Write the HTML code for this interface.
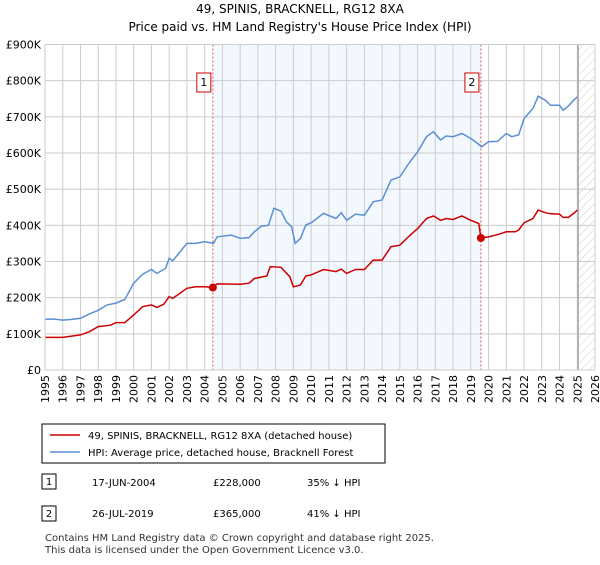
<!DOCTYPE html>
<html><head><meta charset="utf-8"><style>
body{margin:0;background:#fff;font-family:"Liberation Sans","DejaVu Sans",sans-serif;}
svg text{font-family:"DejaVu Sans","Liberation Sans",sans-serif;}
</style></head><body>
<svg id="c" width="600" height="560" viewBox="0 0 600 560" xmlns="http://www.w3.org/2000/svg">
<defs><pattern id="hatch" width="6" height="6" patternUnits="userSpaceOnUse" patternTransform="rotate(45)"><line x1="0" y1="0" x2="0" y2="6" stroke="#ccc" stroke-width="1"/></pattern></defs>
<text x="300" y="13" text-anchor="middle" font-size="12" fill="#000">49, SPINIS, BRACKNELL, RG12 8XA</text>
<text x="300" y="31" text-anchor="middle" font-size="12" fill="#000">Price paid vs. HM Land Registry's House Price Index (HPI)</text>
<g id="plot"></g>
<rect x="42" y="424" width="343" height="39" fill="#fff" stroke="#000" stroke-width="1"/>
<line x1="50" y1="435" x2="80" y2="435" stroke="#cc0000" stroke-width="1.5"/>
<text x="88" y="439" font-size="10">49, SPINIS, BRACKNELL, RG12 8XA (detached house)</text>
<line x1="50" y1="452" x2="80" y2="452" stroke="#5b8fd4" stroke-width="1.5"/>
<text x="88" y="456" font-size="10">HPI: Average price, detached house, Bracknell Forest</text>
<g>
<rect x="42" y="474" width="14" height="15" fill="#fff" stroke="#000"/><text x="49" y="485" font-size="10" text-anchor="middle">1</text>
<text x="92" y="486" font-size="10">17-JUN-2004</text><text x="213" y="486" font-size="10">£228,000</text><text x="307" y="486" font-size="10">35% ↓ HPI</text></g>
<g>
<rect x="42" y="506" width="14" height="15" fill="#fff" stroke="#000"/><text x="49" y="517" font-size="10" text-anchor="middle">2</text>
<text x="92" y="517" font-size="10">26-JUL-2019</text><text x="213" y="517" font-size="10">£365,000</text><text x="307" y="517" font-size="10">41% ↓ HPI</text></g>
<text x="45" y="541" font-size="10" fill="#333">Contains HM Land Registry data © Crown copyright and database right 2025.</text>
<text x="45" y="553" font-size="10" fill="#333">This data is licensed under the Open Government Licence v3.0.</text>
</svg>
<script>
const yTicks=[0,100,200,300,400,500,600,700,800,900];
const yTickLabels=["£0","£100K","£200K","£300K","£400K","£500K","£600K","£700K","£800K","£900K"];
const xYears=[1995,1996,1997,1998,1999,2000,2001,2002,2003,2004,2005,2006,2007,2008,2009,2010,2011,2012,2013,2014,2015,2016,2017,2018,2019,2020,2021,2022,2023,2024,2025,2026];
const saleDates=[2004.46,2019.57];
const saleValues=[228,365];
const hpiT=[1995,1995.5,1996,1996.5,1997,1997.5,1998,1998.5,1999,1999.5,2000,2000.5,2001,2001.3,2001.8,2002,2002.2,2003,2003.5,2004,2004.5,2004.7,2005.5,2006,2006.5,2006.8,2007.2,2007.6,2007.9,2008.3,2008.6,2008.9,2009.1,2009.4,2009.7,2010,2010.7,2011.4,2011.7,2012,2012.5,2013,2013.5,2014,2014.5,2015,2015.5,2016,2016.5,2016.9,2017.3,2017.6,2018,2018.5,2019,2019.4,2019.6,2020,2020.5,2021,2021.3,2021.7,2022,2022.5,2022.8,2023.2,2023.5,2024,2024.2,2024.5,2024.8,2025];
const hpiV=[140,141,138,140,143,155,165,180,185,195,240,265,278,267,281,309,302,350,350,355,350,368,373,364,366,382,398,400,447,439,410,396,350,364,401,407,433,419,435,414,431,428,465,470,525,534,571,603,645,659,636,647,645,654,640,626,617,631,632,654,645,650,695,723,757,746,732,732,718,730,746,755];
const ppT=[1995,1996,1997,1997.5,1998,1998.7,1999,1999.5,2000,2000.5,2001,2001.3,2001.7,2002,2002.2,2003,2003.5,2004,2004.46,2004.7,2006,2006.5,2006.8,2007.5,2007.7,2008.3,2008.8,2009,2009.4,2009.7,2010,2010.7,2011.4,2011.7,2012,2012.5,2013,2013.5,2014,2014.5,2015,2015.5,2016,2016.5,2016.9,2017.3,2017.6,2018,2018.5,2019,2019.45,2019.57,2020,2020.5,2021,2021.5,2021.7,2022,2022.5,2022.8,2023.2,2023.5,2024,2024.2,2024.5,2024.8,2025];
const ppV=[90,90,97,106,120,124,131,131,152,175,180,173,182,203,198,226,230,230,228,238,237,240,253,260,286,284,258,230,235,260,263,278,272,279,267,278,278,304,304,341,345,369,391,419,426,414,419,416,426,414,405,365,368,374,382,382,387,407,419,442,435,432,431,422,422,433,442];
const L=45,R=595,T=44.5,B=370;
const X=y=>L+(y-1995)*(R-L)/31;
const Y=v=>B-v*(B-T)/900;
const NS='http://www.w3.org/2000/svg';
const g=document.getElementById('plot');
function mk(tag,attrs){const e=document.createElementNS(NS,tag);for(const k in attrs)e.setAttribute(k,attrs[k]);g.appendChild(e);return e;}
let e=mk('rect',{x:X(saleDates[0]),y:T,width:X(saleDates[1])-X(saleDates[0]),height:B-T,fill:'#eef3fd',opacity:0.7});


e=mk('rect',{x:X(2025.05),y:T,width:R-X(2025.05),height:B-T,fill:'url(#hatch)'});


yTicks.forEach((v,i)=>{
 e=mk('line',{x1:L,x2:R,y1:Y(v),y2:Y(v),stroke:'#ccc','stroke-width':1});
 
 
 e=mk('text',{x:L-4,y:Y(v)+4,'text-anchor':'end','font-size':11,fill:'#000'});e.textContent=yTickLabels[i];
 
 
});
xYears.forEach(yr=>{
 e=mk('line',{x1:X(yr),x2:X(yr),y1:T,y2:B,stroke:'#ccc','stroke-width':1});
 
 
 e=mk('text',{x:0,y:0,'text-anchor':'end','font-size':11,transform:`translate(${X(yr)+4},${B+5}) rotate(-90)`});e.textContent=yr;
 
 
});
e=mk('line',{x1:X(2025.05),x2:X(2025.05),y1:T,y2:B,stroke:'#888','stroke-width':1});


saleDates.forEach((d,i)=>{
 e=mk('line',{x1:X(d),x2:X(d),y1:T,y2:B,stroke:'#e05555','stroke-width':1,'stroke-dasharray':'2,2'});
 
 
 e=mk('rect',{x:X(d)-16,y:73,width:14,height:19,fill:'#fff',stroke:'#cc0000'});
 
 
 e=mk('text',{x:X(d)-9,y:86,'text-anchor':'middle','font-size':11});e.textContent=String(i+1);
 
 
});
function line(ts,vs,col,name){
 const p=mk('polyline',{points:ts.map((t,i)=>X(t).toFixed(1)+','+Y(vs[i]).toFixed(1)).join(' '),fill:'none',stroke:col,'stroke-width':1.5});
 
 
}
line(hpiT,hpiV,'#5b8fd4','hpi-line');
line(ppT,ppV,'#cc0000','property-price-line');
saleDates.forEach((d,i)=>{
 e=mk('circle',{cx:X(d),cy:Y(saleValues[i]),r:4,fill:'#cc0000'});
 
 
});
e=mk('rect',{x:L,y:T,width:R-L,height:B-T,fill:'none',stroke:'#ccc'});


</script>
</body></html>
